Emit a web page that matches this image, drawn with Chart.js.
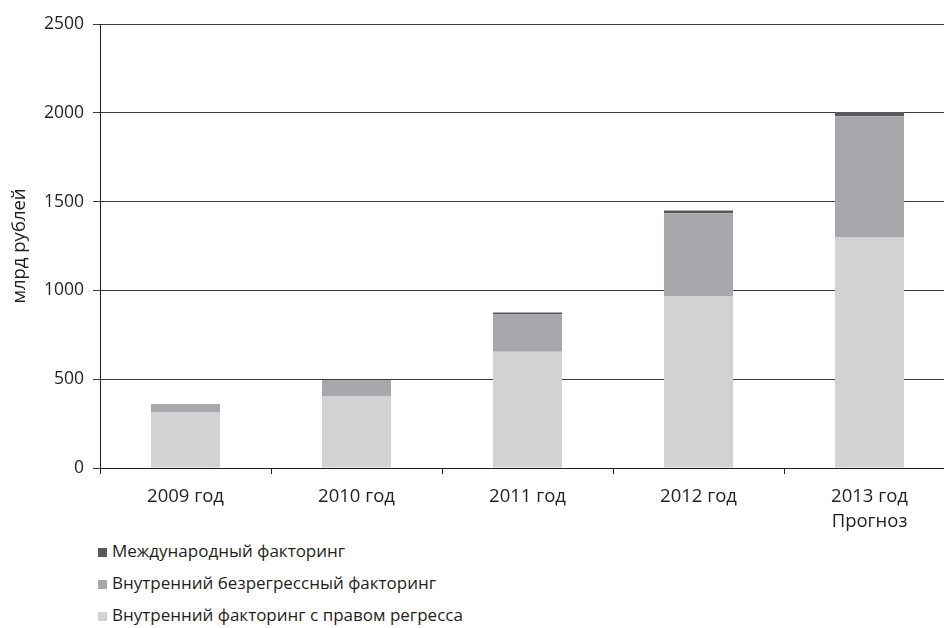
<!DOCTYPE html>
<html>
<head>
<meta charset="utf-8">
<script src="https://cdn.jsdelivr.net/npm/chart.js@4/dist/chart.umd.min.js"></script>
<style>
html,body{margin:0;padding:0;background:#fff;overflow:hidden;width:944px;height:628px;}
#wrap{position:absolute;left:0;top:0;width:960px;height:535px;}
#legend{position:absolute;left:98px;top:538px;font-family:"Open Sans",sans-serif;font-size:17px;color:#231f20;}
.li{height:32px;line-height:26px;white-space:nowrap;}
.sw{display:inline-block;width:9px;height:9px;margin-right:5px;vertical-align:0px;}
</style>
</head>
<body>
<div id="wrap"><canvas id="c" width="960" height="535"></canvas></div>
<div id="legend"></div>
<script>
const categories = [["2009 год"], ["2010 год"], ["2011 год"], ["2012 год"], ["2013 год", "Прогноз"]];
const seriesNames = ["Внутренний факторинг с правом регресса", "Внутренний безрегрессный факторинг", "Международный факторинг"];
const regressValues = [312, 402, 655, 965, 1300];
const nonRegressValues = [40, 85, 210, 470, 680];
const internationalValues = [5, 6, 10, 15, 25];
const yTicks = [0, 500, 1000, 1500, 2000, 2500];
const colors = ["#d1d2d4", "#a7a8ab", "#58595b"];

const FONT = '"Open Sans", sans-serif';
const ctx = document.getElementById('c').getContext('2d');
const chart = new Chart(ctx, {
  type: 'bar',
  data: {
    labels: categories,
    datasets: [
      {label: seriesNames[0], data: regressValues, backgroundColor: colors[0]},
      {label: seriesNames[1], data: nonRegressValues, backgroundColor: colors[1]},
      {label: seriesNames[2], data: internationalValues, backgroundColor: colors[2]}
    ]
  },
  options: {
    responsive: false,
    animation: false,
    devicePixelRatio: 1,
    layout: {padding: {top: 24, right: 5, left: 0, bottom: 0}},
    datasets: {bar: {barPercentage: 0.404, categoryPercentage: 1, borderWidth: 0}},
    plugins: {legend: {display: false}, tooltip: {enabled: false}},
    scales: {
      x: {
        stacked: true,
        offset: true,
        grid: {offset: true, drawOnChartArea: false, drawTicks: true, tickLength: 6, color: '#231f20', lineWidth: 1},
        border: {display: true, color: '#231f20', width: 1},
        ticks: {color: '#231f20', font: {family: FONT, size: 18.5, lineHeight: 1.32}, padding: 11, maxRotation: 0},
        afterFit(scale) { scale.height = 535 - 468; }
      },
      y: {
        stacked: true,
        min: 0, max: 2500,
        afterBuildTicks(scale) { scale.ticks = yTicks.map(v => ({value: v})); },
        grid: {color: '#3a3a3a', lineWidth: 1, drawTicks: true, tickLength: 7},
        border: {display: true, color: '#231f20', width: 1},
        ticks: {color: '#231f20', font: {family: FONT, size: 17.5}, padding: 9, callback: v => String(v)},
        title: {display: true, text: 'млрд рублей', color: '#231f20', font: {family: FONT, size: 18.5}, padding: {top: 9, bottom: 0}},
        afterFit(scale) { scale.width = 100; }
      }
    }
  }
});

const leg = document.getElementById('legend');
[2, 1, 0].forEach(i => {
  const d = document.createElement('div');
  d.className = 'li';
  d.innerHTML = '<span class="sw" style="background:' + colors[i] + '"></span>' + seriesNames[i];
  leg.appendChild(d);
});
</script>
</body>
</html>
